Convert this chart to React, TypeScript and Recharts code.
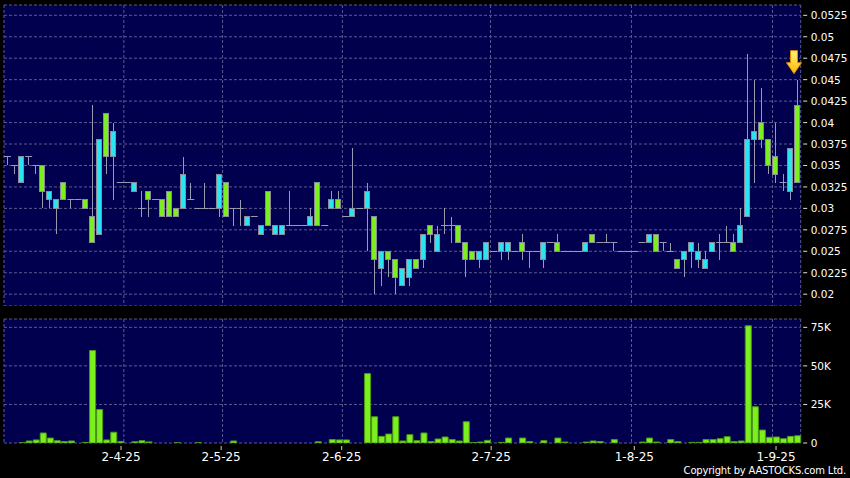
import React from 'react';
import { ComposedChart, BarChart, Bar, XAxis, YAxis, CartesianGrid } from 'recharts';

// ---- data (113 trading sessions) ----
const opens = [
  0.036, 0.035, 0.033, 0.036, 0.035, 0.035, 0.031, 0.030, 0.033, 0.031,
  0.031, 0.031, 0.029, 0.027, 0.041, 0.036, 0.033, 0.033, 0.032, 0.030,
  0.032, 0.031, 0.031, 0.032, 0.030, 0.030, 0.031, 0.030, 0.030, 0.030,
  0.030, 0.033, 0.030, 0.030, 0.028, 0.029, 0.027, 0.032, 0.027, 0.027,
  0.028, 0.028, 0.028, 0.028, 0.033, 0.028, 0.030, 0.031, 0.029, 0.029,
  0.030, 0.030, 0.029, 0.023, 0.025, 0.024, 0.021, 0.022, 0.024, 0.024,
  0.028, 0.025, 0.028, 0.028, 0.028, 0.026, 0.025, 0.024, 0.024, 0.025,
  0.025, 0.025, 0.025, 0.026, 0.025, 0.025, 0.024, 0.026, 0.026, 0.025,
  0.025, 0.025, 0.025, 0.027, 0.026, 0.026, 0.026, 0.025, 0.025, 0.025,
  0.026, 0.026, 0.027, 0.026, 0.025, 0.024, 0.024, 0.025, 0.024, 0.023,
  0.025, 0.026, 0.026, 0.026, 0.026, 0.029, 0.038, 0.040, 0.038, 0.036,
  0.033, 0.032, 0.042,
];
const highs = [
  0.036, 0.035, 0.036, 0.036, 0.035, 0.035, 0.032, 0.031, 0.033, 0.031,
  0.031, 0.031, 0.042, 0.038, 0.041, 0.040, 0.033, 0.033, 0.033, 0.032,
  0.032, 0.031, 0.031, 0.032, 0.030, 0.036, 0.033, 0.030, 0.033, 0.030,
  0.034, 0.033, 0.030, 0.031, 0.029, 0.029, 0.028, 0.032, 0.028, 0.028,
  0.032, 0.028, 0.028, 0.030, 0.033, 0.028, 0.032, 0.032, 0.029, 0.037,
  0.030, 0.033, 0.029, 0.025, 0.025, 0.024, 0.023, 0.024, 0.024, 0.027,
  0.028, 0.028, 0.030, 0.029, 0.028, 0.026, 0.025, 0.025, 0.026, 0.025,
  0.026, 0.026, 0.025, 0.027, 0.025, 0.025, 0.026, 0.026, 0.027, 0.025,
  0.025, 0.025, 0.026, 0.027, 0.026, 0.027, 0.026, 0.025, 0.025, 0.025,
  0.026, 0.027, 0.027, 0.026, 0.026, 0.024, 0.025, 0.026, 0.026, 0.025,
  0.026, 0.027, 0.028, 0.027, 0.030, 0.048, 0.045, 0.044, 0.038, 0.040,
  0.034, 0.037, 0.045,
];
const lows = [
  0.035, 0.034, 0.033, 0.035, 0.034, 0.030, 0.030, 0.027, 0.031, 0.030,
  0.031, 0.030, 0.026, 0.027, 0.034, 0.031, 0.033, 0.033, 0.032, 0.029,
  0.029, 0.031, 0.029, 0.029, 0.029, 0.030, 0.031, 0.030, 0.030, 0.030,
  0.029, 0.029, 0.028, 0.028, 0.028, 0.029, 0.027, 0.028, 0.027, 0.027,
  0.028, 0.028, 0.028, 0.028, 0.028, 0.028, 0.030, 0.030, 0.029, 0.029,
  0.030, 0.025, 0.020, 0.021, 0.022, 0.020, 0.021, 0.021, 0.023, 0.023,
  0.026, 0.025, 0.027, 0.026, 0.026, 0.022, 0.024, 0.023, 0.024, 0.025,
  0.024, 0.024, 0.025, 0.024, 0.023, 0.025, 0.023, 0.026, 0.025, 0.025,
  0.025, 0.025, 0.025, 0.026, 0.026, 0.026, 0.025, 0.025, 0.025, 0.025,
  0.026, 0.026, 0.025, 0.025, 0.025, 0.023, 0.022, 0.023, 0.023, 0.023,
  0.025, 0.024, 0.026, 0.025, 0.026, 0.029, 0.033, 0.037, 0.034, 0.033,
  0.032, 0.031, 0.033,
];
const closes = [
  0.036, 0.035, 0.036, 0.036, 0.035, 0.032, 0.032, 0.031, 0.031, 0.031,
  0.031, 0.030, 0.026, 0.038, 0.036, 0.039, 0.033, 0.033, 0.033, 0.030,
  0.031, 0.031, 0.029, 0.029, 0.029, 0.034, 0.031, 0.030, 0.030, 0.030,
  0.034, 0.029, 0.030, 0.030, 0.029, 0.029, 0.028, 0.028, 0.028, 0.028,
  0.028, 0.028, 0.028, 0.029, 0.028, 0.028, 0.031, 0.030, 0.029, 0.030,
  0.030, 0.032, 0.024, 0.025, 0.024, 0.022, 0.023, 0.024, 0.023, 0.027,
  0.027, 0.027, 0.028, 0.028, 0.026, 0.024, 0.024, 0.025, 0.026, 0.025,
  0.026, 0.026, 0.025, 0.025, 0.025, 0.025, 0.026, 0.026, 0.025, 0.025,
  0.025, 0.025, 0.026, 0.026, 0.026, 0.026, 0.026, 0.025, 0.025, 0.025,
  0.026, 0.027, 0.025, 0.026, 0.025, 0.023, 0.025, 0.026, 0.025, 0.024,
  0.026, 0.026, 0.026, 0.025, 0.028, 0.038, 0.039, 0.038, 0.035, 0.034,
  0.033, 0.037, 0.033,
];
const volumes = [
  0, 0, 200, 1300, 2000, 6500, 3200, 1500, 900, 1300,
  0, 400, 60000, 21700, 2000, 7000, 1000, 0, 800, 1500,
  700, 0, 0, 0, 150, 0, 0, 150, 0, 0,
  0, 0, 1300, 0, 0, 0, 0, 0, 0, 0,
  0, 0, 0, 0, 800, 0, 2200, 2000, 2000, 0,
  0, 45000, 17000, 4300, 5800, 17000, 1300, 5400, 1500, 6500,
  900, 2600, 3900, 2200, 1300, 13800, 300, 600, 1700, 0,
  400, 3200, 0, 3200, 900, 0, 1500, 0, 3200, 600,
  0, 0, 600, 1300, 900, 0, 2200, 0, 0, 0,
  600, 3200, 600, 0, 2200, 900, 0, 400, 400, 2200,
  2200, 2800, 4100, 900, 1300, 76000, 23500, 8400, 3700, 3900,
  2800, 4300, 4700,
];
const monthLabels = ['2-4-25', '2-5-25', '2-6-25', '2-7-25', '1-8-25', '1-9-25'];
const monthGridPos = [16.5, 30.5, 47.5, 68.5, 88.5, 108.5];
const monthLabelPos = [16.1, 30.3, 47.4, 68.6, 88.9, 109.0];
const priceTicks = [0.02, 0.0225, 0.025, 0.0275, 0.03, 0.0325, 0.035, 0.0375, 0.04, 0.0425, 0.045, 0.0475, 0.05, 0.0525];
const volumeTicks = [0, 25000, 50000, 75000];
const volumeTickLabels = ['0', '25K', '50K', '75K'];

const data = opens.map((o, i) => ({
  i,
  open: o,
  high: highs[i],
  low: lows[i],
  close: closes[i],
  range: [lows[i], highs[i]],
  vol: volumes[i],
}));
const lastIndex = data.length - 1;

const NAVY = '#00004e';
const GRID = '#5a5a90';
const CYAN = '#2ae4f2';
const GREEN = '#7cf01e';
const WICK = '#9a9aae';
const BORDER = '#8a8a9a';
const FONT = 'DejaVu Sans, Verdana, sans-serif';

const snap = (v: number) => Math.round(v - 0.5) + 0.5;

function Candle(props: any) {
  const { x, y, width, height, payload } = props;
  if (x == null || !payload) return null;
  const { open, close, high, low, i } = payload;
  const top = height >= 0 ? y : y + height;
  const h = Math.abs(height || 0);
  const span = high - low;
  const py = (p: number) => (span > 0 ? top + ((high - p) / span) * h : top);
  const cx = snap(x + width / 2);
  const yh = py(high);
  const yl = py(low);
  const parts: any[] = [];
  if (yl - yh > 0.5) {
    parts.push(<line key="w" x1={cx} x2={cx} y1={Math.round(yh)} y2={Math.round(yl)} stroke={WICK} strokeWidth={1} />);
  }
  if (open === close) {
    const yy = snap(py(open));
    parts.push(<line key="d" x1={x} x2={x + width} y1={yy} y2={yy} stroke={WICK} strokeWidth={1} />);
  } else {
    const yt = snap(py(Math.max(open, close)));
    const yb = snap(py(Math.min(open, close)));
    parts.push(
      <rect key="b" x={cx - 3} y={yt} width={5} height={yb - yt} fill={close > open ? CYAN : GREEN} stroke={BORDER} strokeWidth={1} />
    );
  }
  if (i === lastIndex) {
    const ax = cx - 3.5;
    const tip = yh - 6;
    parts.push(
      <path
        key="a"
        d={`M${ax - 3.5},${tip - 23} L${ax + 3.5},${tip - 23} L${ax + 3.5},${tip - 11} L${ax + 7.5},${tip - 11} L${ax},${tip} L${ax - 7.5},${tip - 11} L${ax - 3.5},${tip - 11} Z`}
        fill="url(#arrowGrad)"
        stroke="#d98c00"
        strokeWidth={1}
      />
    );
  }
  return <g>{parts}</g>;
}

function PriceTick(props: any) {
  const { x, y, payload } = props;
  return (
    <g>
      <line x1={x + 2.5} x2={x + 6.5} y1={y} y2={y} stroke="#e0e0e0" strokeWidth={1} />
      <text x={x + 10} y={y} dominantBaseline="central" fill="#ffffff" fontSize={10.5} fontFamily={FONT}>
        {String(payload.value)}
      </text>
    </g>
  );
}

function VolTick(props: any) {
  const { x, y, payload } = props;
  const k = volumeTicks.indexOf(payload.value);
  return (
    <g>
      <line x1={x + 2.5} x2={x + 6.5} y1={y} y2={y} stroke="#e0e0e0" strokeWidth={1} />
      <text x={x + 10} y={y} dominantBaseline="central" fill="#ffffff" fontSize={10.5} fontFamily={FONT}>
        {volumeTickLabels[k]}
      </text>
    </g>
  );
}

function DateTick(props: any) {
  const { x, y, payload } = props;
  const k = monthLabelPos.indexOf(payload.value);
  return (
    <g>
      <line x1={x} x2={x} y1={y + 3} y2={y + 7} stroke="#d0d0d0" strokeWidth={1} />
      <text x={x} y={y + 13.5} textAnchor="middle" dominantBaseline="central" fill="#ffffff" fontSize={12} fontFamily={FONT}>
        {monthLabels[k]}
      </text>
    </g>
  );
}

export default function App() {
  return (
    <div style={{ position: 'absolute', left: 0, top: 0, width: 850, height: 478, background: '#000000', overflow: 'hidden' }}>
      <div style={{ position: 'absolute', left: 0, top: 0 }}>
        <ComposedChart width={850} height={306} data={data} margin={{ top: 5, right: 0, left: 4, bottom: 0 }} barCategoryGap={0} barGap={0}>
          <defs>
            <linearGradient id="arrowGrad" x1="0" y1="0" x2="0" y2="1">
              <stop offset="0%" stopColor="#fff27a" />
              <stop offset="100%" stopColor="#ffb800" />
            </linearGradient>
          </defs>
          <CartesianGrid xAxisId="g" yAxisId="p" stroke={GRID} strokeDasharray="3 2" fill={NAVY} fillOpacity={1} />
          <XAxis xAxisId="c" dataKey="i" type="category" orientation="top" height={0} hide />
          <XAxis xAxisId="g" type="number" dataKey="i" domain={[-0.5, 112.5]} ticks={monthGridPos} allowDataOverflow orientation="top" height={0} hide />
          <YAxis
            yAxisId="p"
            orientation="right"
            width={49.3}
            domain={[0.018625, 0.0537]}
            ticks={priceTicks}
            interval={0}
            allowDataOverflow
            axisLine={false}
            tickLine={false}
            tickSize={0}
            tickMargin={0}
            tick={<PriceTick />}
          />
          <Bar xAxisId="c" yAxisId="p" dataKey="range" shape={<Candle />} isAnimationActive={false} />
        </ComposedChart>
      </div>
      <div style={{ position: 'absolute', left: 0, top: 306 }}>
        <BarChart width={850} height={172} data={data} margin={{ top: 13, right: 0, left: 4, bottom: 0 }} barCategoryGap={0} barGap={0}>
          <XAxis
            xAxisId="n"
            type="number"
            dataKey="i"
            domain={[-0.5, 112.5]}
            ticks={monthLabelPos}
            interval={0}
            allowDataOverflow
            height={35}
            axisLine={false}
            tickLine={false}
            tickSize={0}
            tickMargin={0}
            tick={<DateTick />}
          />
          <XAxis xAxisId="c" dataKey="i" type="category" orientation="top" height={0} hide />
          <XAxis xAxisId="g" type="number" dataKey="i" domain={[-0.5, 112.5]} ticks={monthGridPos} allowDataOverflow orientation="top" height={0} hide />
          <CartesianGrid xAxisId="g" yAxisId="v" stroke={GRID} strokeDasharray="3 2" fill={NAVY} fillOpacity={1} />
          <YAxis
            yAxisId="v"
            orientation="right"
            width={49.3}
            domain={[0, 80400]}
            ticks={volumeTicks}
            interval={0}
            allowDataOverflow
            axisLine={false}
            tickLine={false}
            tickSize={0}
            tickMargin={0}
            tick={<VolTick />}
          />
          <Bar xAxisId="c" yAxisId="v" dataKey="vol" barSize={6} fill={GREEN} stroke="#4e9a12" strokeWidth={1} isAnimationActive={false} />
        </BarChart>
      </div>
      <div
        style={{
          position: 'absolute',
          right: 4,
          top: 464,
          fontFamily: FONT,
          fontSize: 10,
          lineHeight: '14px',
          letterSpacing: -0.2,
          color: '#ffffff',
          whiteSpace: 'nowrap',
        }}
      >
        Copyright by AASTOCKS.com Ltd.
      </div>
    </div>
  );
}
